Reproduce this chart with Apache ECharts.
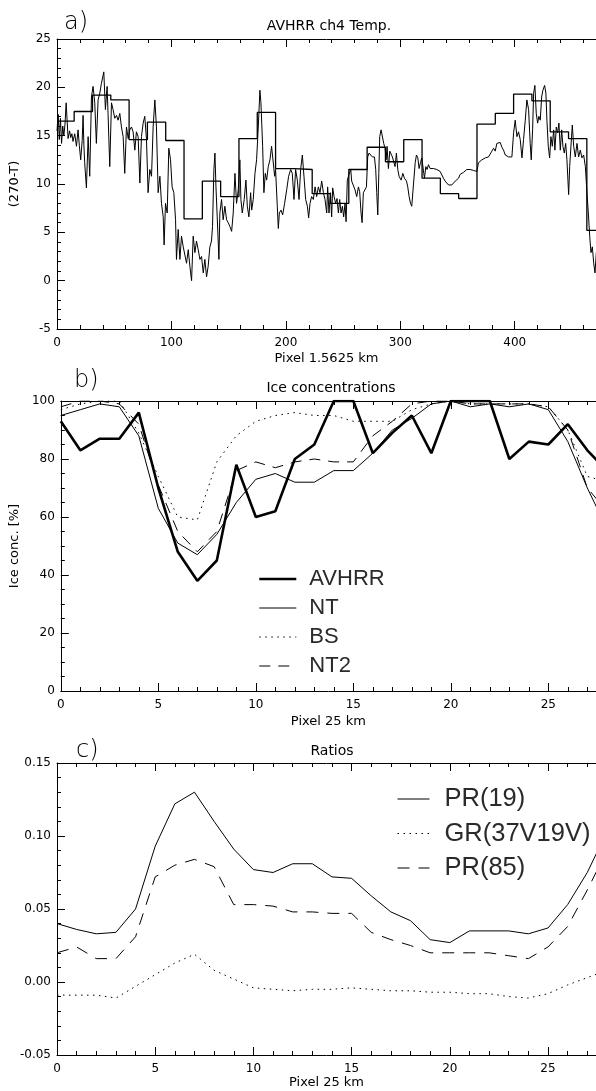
<!DOCTYPE html>
<html>
<head>
<meta charset="utf-8">
<script src="https://cdn.jsdelivr.net/npm/echarts@6/dist/echarts.min.js"></script>
<style>
html,body{margin:0;padding:0;background:#fff;}
#chart{width:596px;height:1091px;}
</style>
</head>
<body>
<div id="chart"></div>
<script>
// ---------- Panel a: AVHRR ch4 temperature (270-T) ----------
var tempPix = [0,1,2,3,4,5,6,7,8,9.7,11,12,13,14,15.5,17,18.4,19.5,20.7,22,22.8,23.5,24.2,25.7,27.2,28.6,30.1,31.5,33,34.4,35.9,37.4,38.8,40.9,42.3,43.8,44.6,46.1,47.6,49,50.5,52,53.4,54.9,56.3,57.8,59.2,60.7,62.2,63.6,65.1,66.5,68,69.4,70.9,72.4,73.8,75.3,76.7,78.2,79.6,81.1,82.6,84,85.5,86.9,88.4,89.9,91.3,92.8,93.6,94.8,96.3,97.7,99.2,100.6,102.1,103.6,104.4,105.9,107.4,108.8,110.3,111.7,113.2,114.7,116.1,117.6,119,120.5,121.9,123.4,124.9,126.3,127.8,129.2,130.7,132.1,133.6,135,135.9,137.1,138,138.9,140,141.5,142.3,143.8,145.2,146.7,148.2,149.6,151.1,152.6,154,155.5,156.9,158.4,159.8,160.7,161.9,163.6,165.1,166.3,167.7,169.2,170.1,171.5,173,174.4,175.9,177.3,178.2,179.7,180.8,182,183.2,184.6,186.1,187.5,189,190.2,191,192.5,193.4,194.3,195.7,197.2,198.9,200.7,202.4,204.2,205.6,207.1,208.5,210,211.5,212.9,214.4,215.8,217.3,218.8,219.9,221.1,222.5,224,225.5,226.9,228.4,229.8,231.3,232.8,234.2,235.7,236.5,237.7,238.9,240,240.9,242.1,243.5,244.7,245.9,247,248.2,249.4,250.5,251.7,252.6,253.7,255.2,256.7,257.5,259,260.4,261.9,263.4,264.5,265.7,266.6,267.7,269.2,270.4,271.5,272.7,274.2,275.6,277.4,278.5,279.4,280.3,281.2,282,283.2,284.4,285.5,286.7,287.6,288.4,289.6,290.8,291.9,293.1,294.3,295.4,296.6,297.8,298.9,300.7,302.2,303.6,305.4,306.5,307.7,308.9,310,311.5,313,314.1,315.3,316.4,317.6,318.8,319.7,320.5,321.1,322.3,323.4,324.6,326,327.5,329,330.4,331.9,333.4,334.8,336.3,337.7,339.2,340.6,342.1,343.6,345,346.5,348,349.4,350.9,352.3,353.8,355.2,356.7,358.1,361,364,366.9,368.3,369.8,371.3,372.7,374.2,375.6,377.1,378.5,380,381.5,382.9,384.4,385.8,387.3,388.8,390.2,391.7,393.1,394.6,396,397.5,399,400.4,401.9,403.3,404.8,406.3,407.7,409.2,410.6,412.1,413.5,414.4,415.6,416.5,417.6,418.8,420,421.1,422.3,423.5,424.6,426.1,427.2,428.1,429.3,430.5,431.6,432.8,434,435.1,436.3,437.5,438.6,439.8,441,442.1,443.3,444.5,445.6,447.1,448,449.1,450.3,451.5,452.9,454.4,455.8,457.3,458.7,460.2,461.7,463.1,464.3,465.5,466.6,467.8,469,470.1,471.3,472.4];
var tempVal = [15.5,17.2,14.6,16.8,14.2,16.0,15.0,16.2,18.4,14.7,15.5,14.8,15.2,14.4,15.2,13.9,15.6,14.0,12.5,14.5,17.1,14.0,12.2,9.6,14.9,10.8,19.0,20.1,18.4,14.2,18.7,19.4,20.4,21.6,17.7,20.1,17.3,11.8,18.4,17.7,16.8,17.1,16.6,17.3,15.9,14.9,11.1,15.9,14.7,15.6,15.9,15.4,13.5,15.4,14.9,10.1,14.9,16.3,17.0,14.6,9.1,11.5,10.8,15.9,18.7,15.9,9.1,10.8,8.0,6.6,3.7,8.0,7.0,13.7,12.5,9.7,9.1,6.3,2.2,5.3,2.2,4.6,3.5,3.5,1.8,3.2,1.5,0.0,4.6,2.9,4.1,3.2,2.2,2.5,0.8,2.2,0.4,1.5,3.5,4.1,5.6,11.5,13.2,9.7,6.6,2.2,7.0,8.4,6.3,7.7,6.3,6.0,5.6,5.1,7.0,11.1,8.0,9.4,12.5,8.4,7.0,8.4,10.4,7.7,6.6,9.1,7.3,8.4,11.1,12.5,15.9,19.7,18.4,13.9,9.1,11.1,10.4,11.8,12.5,13.9,13.7,10.8,11.5,7.7,5.4,7.0,7.3,6.8,8.0,9.4,10.8,11.5,11.1,8.4,11.5,10.4,8.4,11.5,13.0,10.8,8.4,7.7,6.5,8.0,8.7,8.4,9.7,8.7,9.7,9.1,10.3,9.1,8.4,7.0,9.7,7.0,9.1,6.6,9.6,8.7,8.0,8.5,7.0,8.4,7.0,7.7,6.6,8.0,6.1,10.4,11.0,11.5,10.3,10.1,9.4,8.7,9.7,9.2,7.0,6.0,9.1,8.9,9.7,12.8,13.2,13.0,12.8,12.8,11.5,9.1,6.8,11.1,14.9,15.6,15.8,14.2,13.7,12.5,13.9,11.6,13.4,13.5,12.8,13.0,11.8,13.2,11.5,10.8,10.4,11.1,10.6,10.3,9.7,8.7,8.0,7.7,7.9,12.2,13.0,12.7,11.6,12.2,12.7,12.5,11.1,10.6,11.8,11.5,12.0,11.6,11.8,11.6,11.5,11.5,11.3,11.3,11.1,10.6,10.3,10.4,9.9,9.7,9.9,10.1,10.3,10.4,10.6,11.0,11.1,11.2,11.2,11.5,11.5,11.4,11.3,12.2,12.0,12.5,12.3,12.7,12.5,12.8,13.0,13.4,13.7,13.4,14.2,14.0,14.3,13.8,13.5,13.0,13.2,12.8,12.8,12.8,15.3,16.6,14.9,15.4,14.6,12.7,14.6,16.6,18.7,17.7,14.2,12.5,15.6,19.4,20.2,17.3,16.3,17.0,16.6,19.0,19.7,20.2,19.4,16.6,13.9,12.7,14.9,13.9,15.6,13.5,15.9,15.3,16.3,13.5,15.6,13.9,13.2,14.2,12.5,8.9,11.8,13.9,16.1,13.9,12.8,14.2,12.8,13.5,12.7,13.0,11.8,9.1,7.0,4.6,2.9,3.5,1.8,0.8,2.9,2.5];
// 25 km averages drawn as steps: segment edges (pixel) and values
var stepEdges = [0,15,31,47,63,79,95,111,127,143,159,175,191,207,223,239,255,271,287,303,319,335,351,367,383,399,415,431,447,463,472];
var stepVals  = [16.5,17.5,19.2,18.7,14.6,16.4,14.5,6.4,10.3,8.7,14.7,17.4,11.6,11.5,9.0,8.0,11.5,13.8,12.3,14.6,10.6,9.0,8.5,16.2,17.3,19.3,18.6,15.4,14.7,5.2];

// ---------- Panel b: ice concentrations (%) ----------
var cellPix = [0,1,2,3,4,5,6,7,8,9,10,11,12,13,14,15,16,17,18,19,20,21,22,23,24,25,26,27,28];
var iceAVHRR = [93,83,87,87,96,70,48,38,45,78,60,62,80,85,100,100,82,89,95,82,100,100,100,80,86,85,92,83,76];
var iceNT    = [95,97,99,98,88,63,51,47,54,65,73,75,72,72,76,76,82,90,94,99,100,98,99,98,99,97,86,70,56];
var iceBS    = [97,99,100,100,89,74,60,59,79,88,93,95,96,95,95,93,93,93,97,99,100,99,99,99,99,98,90,74,72];
var iceNT2   = [98,100,100,99,92,71,55,48,55,76,79,77,79,80,79,79,88,93,99,100,100,99,99,99,99,98,90,70,62];

// ---------- Panel c: ratios ----------
var pr19 = [0.040,0.036,0.033,0.034,0.050,0.093,0.122,0.130,0.110,0.091,0.077,0.075,0.081,0.081,0.072,0.071,0.059,0.048,0.042,0.029,0.027,0.035,0.035,0.035,0.033,0.037,0.053,0.075,0.103];
var gr3719 = [-0.009,-0.009,-0.009,-0.011,-0.003,0.005,0.013,0.019,0.008,0.002,-0.004,-0.005,-0.006,-0.005,-0.005,-0.004,-0.005,-0.006,-0.006,-0.007,-0.007,-0.008,-0.008,-0.010,-0.011,-0.008,-0.002,0.003,0.008];
var pr85 = [0.020,0.024,0.016,0.016,0.031,0.072,0.080,0.084,0.079,0.053,0.053,0.052,0.048,0.048,0.047,0.047,0.034,0.029,0.025,0.020,0.020,0.020,0.020,0.018,0.016,0.024,0.038,0.063,0.090];

// ---------- build ----------
function zip(xs, ys){ return xs.map(function(x,i){ return [x, ys[i]]; }); }
var stepData = stepVals.map(function(v,i){ return [stepEdges[i], v]; });
stepData.push([stepEdges[stepEdges.length-1], stepVals[stepVals.length-1]]);

var FONT = 'DejaVu Sans';
var INK = '#000';

function xAx(grid, max, interval, minorSplit, top, name, nameGap){
  return {
    type:'value', gridIndex:grid, min:0, max:max, interval:interval,
    position: top ? 'top' : 'bottom',
    axisLine:{show:true, onZero:false, lineStyle:{color:INK, width:1}},
    axisTick:{show:true, inside:true, length:8, lineStyle:{color:INK}},
    minorTick:{show:true, splitNumber:minorSplit, length:4, lineStyle:{color:INK}},
    splitLine:{show:false},
    axisLabel:{show:!top, margin:8, color:INK, fontFamily:FONT, fontSize:12, showMaxLabel:false,
      formatter:function(v){ return (Math.abs(v % interval) < 1e-9) ? String(v) : ''; }},
    name: top ? '' : name, nameLocation:'middle', nameGap:nameGap,
    nameTextStyle:{color:INK, fontFamily:FONT, fontSize:13}
  };
}
function yAx(grid, min, max, interval, minorSplit, name, fmt){
  return {
    type:'value', gridIndex:grid, min:min, max:max, interval:interval,
    axisLine:{show:true, onZero:false, lineStyle:{color:INK, width:1}},
    axisTick:{show:true, inside:true, length:8, lineStyle:{color:INK}},
    minorTick:{show:true, splitNumber:minorSplit, length:4, lineStyle:{color:INK}},
    splitLine:{show:false},
    axisLabel:{margin:6, color:INK, fontFamily:FONT, fontSize:12, formatter:fmt},
    name:name, nameLocation:'middle', nameGap:36, nameRotate:90,
    nameTextStyle:{color:INK, fontFamily:FONT, fontSize:13}
  };
}
function ln(name, xi, yi, data, width, type){
  return {
    name:name, type:'line', xAxisIndex:xi, yAxisIndex:yi, data:data,
    symbol:'none', showSymbol:false, silent:true, animation:false, clip:true,
    lineStyle:{color:INK, width:width, type:type}, itemStyle:{color:INK},
    emphasis:{disabled:true}
  };
}
function legItem(name, width, type){
  return {name:name, lineStyle:{color:INK, width:width, type:type}, itemStyle:{opacity:0, borderWidth:0}};
}

var bMax = 539/19.64;
var DOT = [1.5, 4.5];
var DASH = [11, 8];
var DASH_C = [12, 9];
var LEG_TEXT = '#2a2a2a';

var option = {
  animation:false,
  backgroundColor:'#fff',
  grid:[
    {left:57, top:39, width:539, height:290},
    {left:57, top:401, width:539, height:290},
    {left:57, top:763, width:539, height:292}
  ],
  title:[
    {text:'AVHRR ch4 Temp.', left:329, top:19, textAlign:'center', padding:0, textStyle:{color:INK, fontFamily:FONT, fontSize:14, fontWeight:'normal'}},
    {text:'Ice concentrations', left:331, top:381, textAlign:'center', padding:0, textStyle:{color:INK, fontFamily:FONT, fontSize:14, fontWeight:'normal'}},
    {text:'Ratios', left:332, top:744, textAlign:'center', padding:0, textStyle:{color:INK, fontFamily:FONT, fontSize:14, fontWeight:'normal'}},
    {text:'a)', left:64, top:11, padding:0, textStyle:{color:INK, fontFamily:FONT, fontSize:24, fontWeight:'lighter'}},
    {text:'b)', left:74, top:369, padding:0, textStyle:{color:INK, fontFamily:FONT, fontSize:24, fontWeight:'lighter'}},
    {text:'c)', left:76, top:739, padding:0, textStyle:{color:INK, fontFamily:FONT, fontSize:24, fontWeight:'lighter'}}
  ],
  legend:[
    {data:[legItem('AVHRR', 2.6, 'solid'), legItem('NT', 1, 'solid'), legItem('BS', 1, DOT), legItem('NT2', 1, DASH)],
     orient:'vertical', left:253, top:563, itemWidth:37, itemHeight:22, itemGap:7,
     selectedMode:false, itemStyle:{opacity:0, borderWidth:0},
     textStyle:{color:LEG_TEXT, fontFamily:'Liberation Sans', fontSize:22, lineHeight:22, padding:[0,0,0,8]}},
    {data:[legItem('PR(19)', 1, 'solid'), legItem('GR(37V19V)', 1, DOT), legItem('PR(85)', 1, DASH_C)],
     orient:'vertical', left:392, top:781, itemWidth:32, itemHeight:26, itemGap:8.5,
     selectedMode:false, itemStyle:{opacity:0, borderWidth:0},
     textStyle:{color:LEG_TEXT, fontFamily:'Liberation Sans', fontSize:25.5, lineHeight:26, padding:[0,0,0,10]}}
  ],
  xAxis:[
    xAx(0, 471, 100, 5, false, 'Pixel 1.5625 km', 23),
    xAx(0, 471, 100, 5, true, '', 0),
    xAx(1, bMax, 5, 5, false, 'Pixel 25 km', 24),
    xAx(1, bMax, 5, 5, true, '', 0),
    xAx(2, bMax, 5, 5, false, 'Pixel 25 km', 21),
    xAx(2, bMax, 5, 5, true, '', 0)
  ],
  yAxis:[
    yAx(0, -5, 25, 5, 5, '(270-T)', function(v){ return String(v); }),
    yAx(1, 0, 100, 20, 4, 'Ice conc. [%]', function(v){ return String(v); }),
    yAx(2, -0.05, 0.15, 0.05, 5, '', function(v){ return v.toFixed(2); })
  ],
  series:[
    ln('temp', 0, 0, zip(tempPix, tempVal), 1, 'solid'),
    Object.assign(ln('step', 0, 0, stepData, 1.3, 'solid'), {step:'end'}),
    ln('AVHRR', 2, 1, zip(cellPix, iceAVHRR), 2.6, 'solid'),
    ln('NT', 2, 1, zip(cellPix, iceNT), 1, 'solid'),
    ln('BS', 2, 1, zip(cellPix, iceBS), 1, DOT),
    ln('NT2', 2, 1, zip(cellPix, iceNT2), 1, DASH),
    ln('PR(19)', 4, 2, zip(cellPix, pr19), 1, 'solid'),
    ln('GR(37V19V)', 4, 2, zip(cellPix, gr3719), 1, DOT),
    ln('PR(85)', 4, 2, zip(cellPix, pr85), 1, DASH_C)
  ]
};
var chart = echarts.init(document.getElementById('chart'), null, {renderer:'canvas'});
chart.setOption(option);
</script>
</body>
</html>
